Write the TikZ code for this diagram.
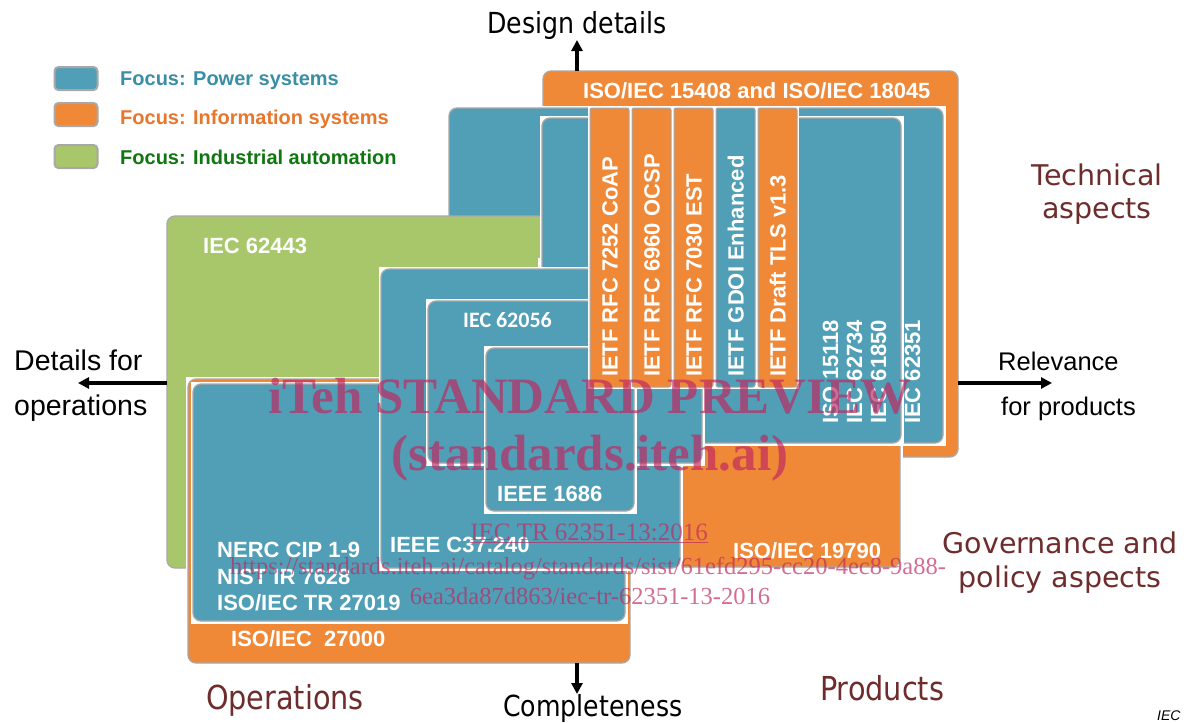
\documentclass[tikz,border=0pt]{standalone}
\usepackage{fontspec}
\setmainfont{Liberation Sans}
\newfontfamily\dvs{DejaVu Sans}
\newfontfamily\dvsc{DejaVu Sans}[FakeStretch=0.87]
\newfontfamily\carl{Carlito}
\newfontfamily\tms{Liberation Serif}
\usetikzlibrary{arrows.meta,fit}

\definecolor{pblue}{RGB}{80,159,183}
\definecolor{porange}{RGB}{239,137,56}
\definecolor{pgreen}{RGB}{168,198,106}
\definecolor{bordergray}{RGB}{168,168,168}
\definecolor{legblue}{RGB}{58,142,166}
\definecolor{legorange}{RGB}{232,118,44}
\definecolor{leggreen}{RGB}{16,118,16}
\definecolor{maroonish}{RGB}{110,44,44}
\definecolor{wmark}{RGB}{192,40,96}

\tikzset{
  pbox/.style={draw=bordergray, line width=1.3pt, rounded corners=8pt, inner sep=0pt, outer sep=0pt},
  sbox/.style={draw=bordergray, line width=1pt, rounded corners=2pt, inner sep=0pt, outer sep=0pt},
  lbl/.style={text=white, font=\fontsize{22}{26}\selectfont\bfseries, inner sep=0pt, anchor=base west},
  vlbl/.style={lbl, rotate=90},
  axisarrow/.style={line width=3.2pt, -{Triangle[length=11pt,width=11pt]}},
  outer/.style={font=\dvsc\fontsize{29}{34}\selectfont, inner sep=0pt, anchor=base},
  bigouter/.style={font=\dvsc\fontsize{33}{38}\selectfont, text=maroonish, inner sep=0pt, anchor=base},
  aspect/.style={font=\dvs\fontsize{28.5}{33}\selectfont, text=maroonish, inner sep=0pt, anchor=base},
  relv/.style={font=\fontsize{25.5}{30}\selectfont, inner sep=0pt, anchor=base west},
  detl/.style={font=\fontsize{28.5}{33}\selectfont, inner sep=0pt, anchor=base west},
  swatch/.style={draw=bordergray, line width=2pt, rounded corners=4pt, minimum width=43pt, minimum height=23pt, inner sep=0pt},
  legtext/.style={font=\fontsize{20}{24}\selectfont\bfseries, inner sep=0pt, anchor=base west},
  wm/.style={text=wmark, text opacity=0.68, inner sep=0pt, anchor=base},
}

\newcommand{\wframe}[4]{\fill[white] ({#1-2.5},{#2-2.5}) rectangle ({#3+2.5},{#4+2.5});}
\newcommand{\stdbox}[6]{\node[pbox, fill=#6, fit={(#2,#3) (#4,#5)}] (#1) {};}
\newcommand{\framedbox}[6]{\wframe{#2}{#3}{#4}{#5}\stdbox{#1}{#2}{#3}{#4}{#5}{#6}}
\newcommand{\stripbox}[3]{\fill[white] ({#2-2},106) rectangle ({#2+41},389);
  \node[sbox, fill=#3, fit={(#2,108) ({#2+39},387)}] (#1) {};}

\begin{document}
\begin{tikzpicture}[x=1pt,y=-1pt]
\useasboundingbox[fill=white] (0,0) rectangle (1189,723);

% boxes, back to front
\stdbox{iso15408}{543}{71}{958}{457}{porange}
\framedbox{iec62351box}{449}{108}{943}{443}{pblue}
\stdbox{iec62443}{167}{216}{600}{568}{pgreen}
\framedbox{iso19790}{540}{260}{900}{567}{porange}
\framedbox{innerbox}{542}{118}{901}{443}{pblue}
\framedbox{iso27000}{188}{379}{630}{663}{porange}
\framedbox{nercbox}{193}{384}{625}{621}{pblue}
\framedbox{c37box}{381}{269}{680}{568}{pblue}
\framedbox{iec62056}{428}{301}{702}{463}{pblue}
\framedbox{ieee1686}{486}{348}{634}{511}{pblue}

% IETF strips
\stripbox{strip1}{590}{porange}
\stripbox{strip2}{632}{porange}
\stripbox{strip3}{674}{porange}
\stripbox{strip4}{716}{pblue}
\stripbox{strip5}{758}{porange}

% labels in boxes
\node[lbl] (t15408) at (583,98) {ISO/IEC 15408 and ISO/IEC 18045};
\node[lbl] (t62443) at (203,253) {IEC 62443};
\node[lbl, font=\carl\fontsize{22}{26}\selectfont\bfseries] (t62056) at (463,327) {IEC 62056};
\node[lbl] (t1686) at (497,501) {IEEE 1686};
\node[lbl] (tc37) at (390,552) {IEEE C37.240};
\node[lbl] (tnerc) at (217,557) {NERC CIP 1-9};
\node[lbl] (tnist) at (217,584) {NIST IR 7628};
\node[lbl] (t27019) at (217,610) {ISO/IEC TR 27019};
\node[lbl] (t27000) at (231,646) {ISO/IEC\ \ 27000};
\node[lbl] (t19790) at (733,558) {ISO/IEC 19790};

\node[vlbl] (ts1) at (617.5,377) {IETF RFC 7252 CoAP};
\node[vlbl] (ts2) at (659.5,377) {IETF RFC 6960 OCSP};
\node[vlbl] (ts3) at (701.5,377) {IETF RFC 7030 EST};
\node[vlbl] (ts4) at (743.5,377) {IETF GDOI Enhanced};
\node[vlbl] (ts5) at (785.5,377) {IETF Draft TLS v1.3};

\node[vlbl] (t15118) at (838,424) {ISO 15118};
\node[vlbl] (t62734) at (862,424) {IEC 62734};
\node[vlbl] (t61850) at (886,424) {IEC 61850};
\node[vlbl] (t62351) at (920,424) {IEC 62351};

% legend
\node[swatch, fill=pblue] (sw1) at (76,78.5) {};
\node[swatch, fill=porange] (sw2) at (76,114.5) {};
\node[swatch, fill=pgreen] (sw3) at (76,156.5) {};
\node[legtext, text=legblue] (lg1) at (120,85) {Focus: Power systems};
\node[legtext, text=legorange] (lg2) at (120,124) {Focus: Information systems};
\node[legtext, text=leggreen] (lg3) at (120,164) {Focus: Industrial automation};

% axes
\coordinate (upend) at (577,40);
\coordinate (downend) at (577,694);
\coordinate (leftend) at (78,383);
\coordinate (rightend) at (1052,383);
\draw[axisarrow] (iso15408.north -| upend) -- (upend);
\draw[axisarrow] (iso27000.south -| downend) -- (downend);
\draw[axisarrow] (iec62443.west |- leftend) -- (leftend);
\draw[axisarrow] (iso15408.east |- rightend) -- (rightend);

% outer texts
\node[outer] (tdesign) at (577,33) {Design details};
\node[outer] (tcomplete) at (593,716) {Completeness};
\node[bigouter] (toper) at (285,709) {Operations};
\node[bigouter] (tprod) at (882,700) {Products};
\node[aspect] (ttech1) at (1097,185) {Technical};
\node[aspect] (ttech2) at (1097,218) {aspects};
\node[aspect] (tgov1) at (1060,553) {Governance and};
\node[aspect] (tgov2) at (1060,587) {policy aspects};
\node[detl] (tdet1) at (14,370) {Details for};
\node[detl] (tdet2) at (14,415) {operations};
\node[relv] (trel1) at (998,370) {Relevance};
\node[relv] (trel2) at (1001,415) {for products};
\node[font=\fontsize{14}{16}\selectfont\itshape, inner sep=0pt, anchor=base west] (tiec) at (1157,720) {IEC};

% watermark
\node[wm, font=\tms\bfseries\fontsize{51}{55}\selectfont] (wm1) at (590,413) {iTeh STANDARD PREVIEW};
\node[wm, font=\tms\bfseries\fontsize{51}{55}\selectfont] (wm2) at (590,470) {(standards.iteh.ai)};
\node[wm, font=\tms\fontsize{25}{28}\selectfont] (wm3) at (589,540) {\underline{IEC TR 62351-13:2016}};
\node[wm, font=\tms\fontsize{24.5}{28}\selectfont] (wm4) at (588,574) {https://standards.iteh.ai/catalog/standards/sist/61efd295-cc20-4ec8-9a88-};
\node[wm, font=\tms\fontsize{24.5}{28}\selectfont] (wm5) at (590,604) {6ea3da87d863/iec-tr-62351-13-2016};
\end{tikzpicture}
\end{document}
